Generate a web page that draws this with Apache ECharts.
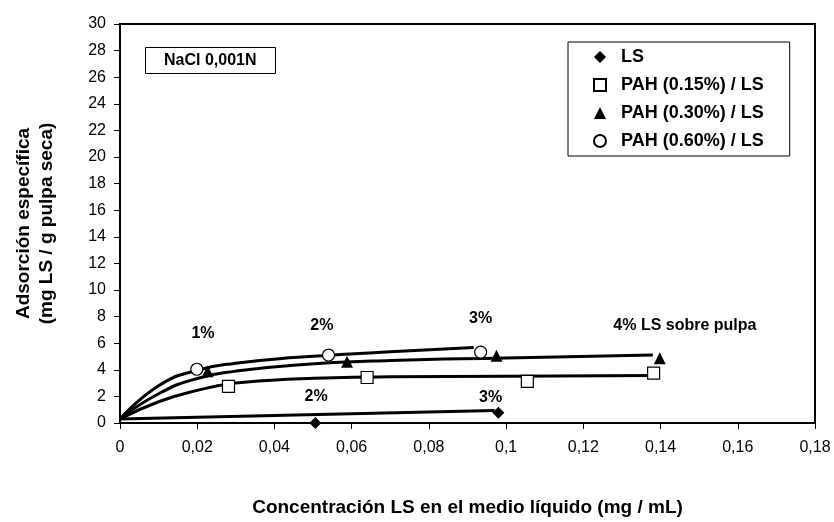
<!DOCTYPE html>
<html lang="es" style="height: 100%;margin: 0;background-color: #fff;">
<head>
    <meta charset="UTF-8">
    <title>chart</title>
</head>
<body style="height: 100%;margin: 0;background-color: #fff;">
<div id="chart" style="width: 834px;height: 522px;margin: 0;"></div>
<script src="https://cdn.jsdelivr.net/npm/echarts@6/dist/echarts.min.js"></script>
<script>
    // measured points (x: mg/mL, y: mg LS / g pulpa)
    var lsPoints = [[0.0506, 0], [0.098, 0.77]];
    var pah015Points = [[0.0281, 2.75], [0.064, 3.42], [0.1055, 3.13], [0.1382, 3.75]];
    var pah030Points = [[0.0227, 3.9], [0.0588, 4.6], [0.0975, 5.06], [0.1398, 4.86]];
    var pah060Points = [[0.0199, 4.04], [0.054, 5.11], [0.0934, 5.33]];

    // trend curves
    var lsCurve = [[0, 0.3], [0.097, 0.94]];
    var pah015Curve = [[0, 0.3], [0.01, 1.6], [0.02, 2.45], [0.03, 3.0], [0.045, 3.3], [0.07, 3.47], [0.1, 3.52], [0.138, 3.57]];
    var pah030Curve = [[0, 0.3], [0.01, 2.2], [0.02, 3.35], [0.03, 3.9], [0.045, 4.35], [0.07, 4.7], [0.1, 4.89], [0.138, 5.11]];
    var pah060Curve = [[0, 0.3], [0.01, 2.8], [0.02, 3.97], [0.03, 4.5], [0.045, 4.92], [0.07, 5.35], [0.0916, 5.68]];

    var seriesNames = ["LS", "PAH (0.15%) / LS", "PAH (0.30%) / LS", "PAH (0.60%) / LS"];
    var xTickLabels = ["0", "0,02", "0,04", "0,06", "0,08", "0,1", "0,12", "0,14", "0,16", "0,18"];

    // text notes [x, y, text]
    var notes = [
        [0.0215, 6.7, "1%"], [0.0523, 7.35, "2%"], [0.0934, 7.84, "3%"],
        [0.1463, 7.3, "4% LS sobre pulpa"], [0.0508, 2.0, "2%"], [0.096, 1.88, "3%"]
    ];

    var FONT = "'Liberation Sans', Arial, sans-serif";
    var myChart = echarts.init(document.getElementById("chart"), null, {renderer: 'canvas'});

    function curve(name, data) {
        return {
            name: name, type: 'line', data: data, smooth: 0.5,
            showSymbol: false, symbol: 'none', silent: true, z: 2,
            lineStyle: {color: '#000', width: 3}
        };
    }

    function points(name, data, symbol, filled) {
        return {
            name: name, type: 'scatter', data: data, symbol: symbol, symbolSize: 12, z: 5,
            itemStyle: filled ? {color: '#000', opacity: 1}
                : {color: '#fff', borderColor: '#000', borderWidth: 1.2, opacity: 1}
        };
    }

    var option = {
        backgroundColor: '#fff',
        animation: false,
        textStyle: {fontFamily: FONT},
        title: {
            text: 'NaCl 0,001N', left: 145, top: 47,
            padding: [5, 19, 5, 19],
            borderColor: '#000', borderWidth: 1, backgroundColor: '#fff',
            textStyle: {fontFamily: FONT, fontSize: 16, fontWeight: 'bold', color: '#000', lineHeight: 17}
        },
        legend: {
            data: seriesNames,
            orient: 'vertical', left: 568, top: 42,
            padding: [6, 26, 6, 25],
            itemWidth: 12, itemHeight: 12, itemGap: 10,
            borderColor: '#000', borderWidth: 1, backgroundColor: '#fff',
            textStyle: {
                fontFamily: FONT, fontSize: 18, fontWeight: 'bold', color: '#000',
                lineHeight: 18, padding: [0, 0, 0, 10]
            }
        },
        grid: {
            left: 120, top: 24, right: 19, bottom: 95,
            show: true, borderColor: '#000', borderWidth: 2, backgroundColor: '#fff'
        },
        xAxis: {
            type: 'value', min: 0, max: 0.18, interval: 0.02,
            name: 'Concentración LS en el medio líquido (mg / mL)',
            nameLocation: 'middle', nameGap: 75,
            nameTextStyle: {fontFamily: FONT, fontSize: 19, fontWeight: 'bold', color: '#000'},
            axisLine: {lineStyle: {color: '#000', width: 2}},
            axisTick: {show: true, inside: false, length: 6, lineStyle: {color: '#000'}},
            splitLine: {show: false},
            axisLabel: {
                fontFamily: FONT, fontSize: 16, color: '#000', margin: 17,
                formatter: function (v) {
                    return xTickLabels[Math.round(v / 0.02)];
                }
            }
        },
        yAxis: {
            type: 'value', min: 0, max: 30, interval: 2,
            name: 'Adsorción específica\n(mg LS / g pulpa seca)',
            nameLocation: 'middle', nameGap: 62, nameRotate: 90,
            nameTextStyle: {fontFamily: FONT, fontSize: 19, fontWeight: 'bold', color: '#000', lineHeight: 23},
            axisLine: {show: true, lineStyle: {color: '#000', width: 2}},
            axisTick: {show: true, inside: false, length: 6, lineStyle: {color: '#000'}},
            splitLine: {show: false},
            axisLabel: {fontFamily: FONT, fontSize: 16, color: '#000', margin: 14}
        },
        series: [
            curve('c-ls', lsCurve),
            curve('c-015', pah015Curve),
            curve('c-030', pah030Curve),
            curve('c-060', pah060Curve),
            points(seriesNames[0], lsPoints, 'diamond', true),
            points(seriesNames[1], pah015Points, 'rect', false),
            points(seriesNames[2], pah030Points, 'triangle', true),
            points(seriesNames[3], pah060Points, 'circle', false),
            {
                name: 'notes', type: 'scatter', symbolSize: 0, silent: true, z: 6,
                itemStyle: {opacity: 1},
                data: notes.map(function (n) { return {value: [n[0], n[1]], note: n[2]}; }),
                label: {
                    show: true, position: 'inside', color: '#000',
                    fontFamily: FONT, fontSize: 16, fontWeight: 'bold',
                    formatter: function (p) { return p.data.note; }
                }
            }
        ]
    };
    myChart.setOption(option, true);
</script>
</body>
</html>
